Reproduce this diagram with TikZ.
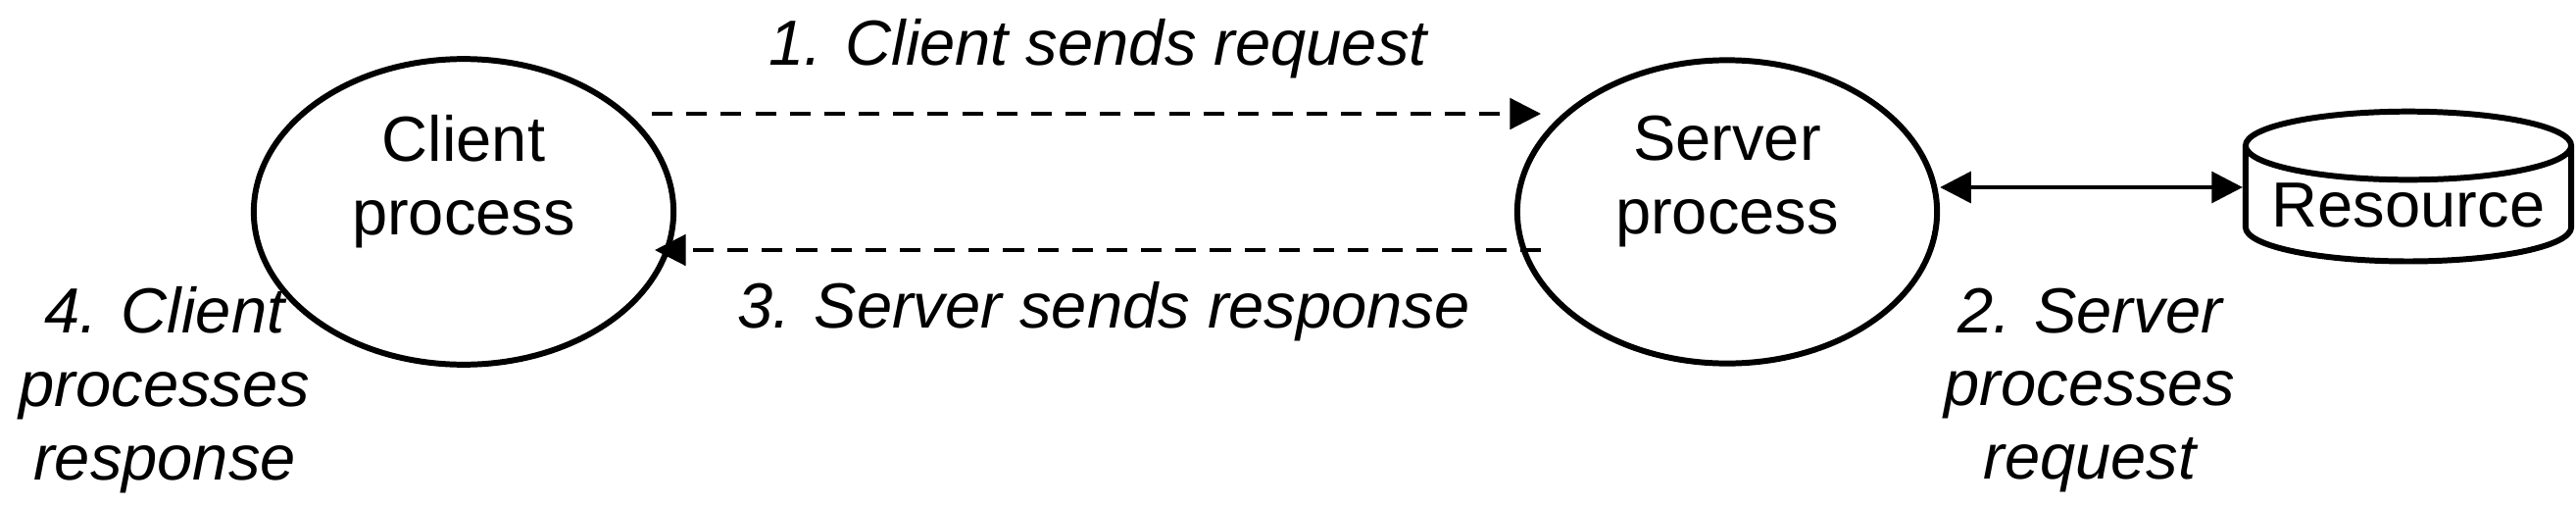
\documentclass[tikz,border=0pt]{standalone}
\usepackage{fontspec}
\setmainfont{Liberation Sans}
\usetikzlibrary{arrows.meta,shapes.geometric}

\begin{document}
\begin{tikzpicture}[x=0.01cm, y=-0.01cm,
  proc/.style={draw, ellipse, line width=1.7pt, minimum width=4.28cm, minimum height=2.72cm, align=center},
  store/.style={draw, cylinder, shape border rotate=90, aspect=0.25, line width=1.7pt, minimum width=3.32cm, minimum height=0.86cm, inner sep=0pt},
  msg/.style={-{Triangle[length=9pt, width=9pt]}, dashed, line width=0.9pt, dash pattern=on 6pt off 4pt},
  every node/.style={font=\fontsize{18.5}{21.3}\selectfont}
]
\useasboundingbox (0,0) rectangle (2628,515);

% processes
\node[proc] (client) at (473,216) {Client\\process\\\mbox{}};
\node[proc] (server) at (1762,216) {Server\\process\\\mbox{}};
\node[store] (res) at (2457,209) {\raisebox{-3pt}{Resource}};

% messages
\coordinate (c1) at (665,116);
\coordinate (s1) at (1572,116);
\coordinate (s3) at (1572,255);
\coordinate (c3) at (668,255);
\draw[msg] (c1) -- (s1);
\draw[msg] (s3) -- (c3);
\draw[{Triangle[length=9pt, width=9pt]}-{Triangle[length=9pt, width=9pt]}, line width=1.2pt] (server.east |- 0,191) -- (res.west |- 0,191);

% labels
\node[font=\fontsize{18.5}{21.3}\selectfont\itshape] (lbl1) at (1120,50) {1. Client sends request};
\node[font=\fontsize{18.5}{21.3}\selectfont\itshape] (lbl3) at (1126,318) {3. Server sends response};
\node[align=center, font=\fontsize{18.5}{21.3}\selectfont\itshape] (lbl4) at (168,398) {4. Client\\processes\\response};
\node[align=center, font=\fontsize{18.5}{21.3}\selectfont\itshape] (lbl2) at (2132,398) {2. Server\\processes\\request};
\end{tikzpicture}
\end{document}
